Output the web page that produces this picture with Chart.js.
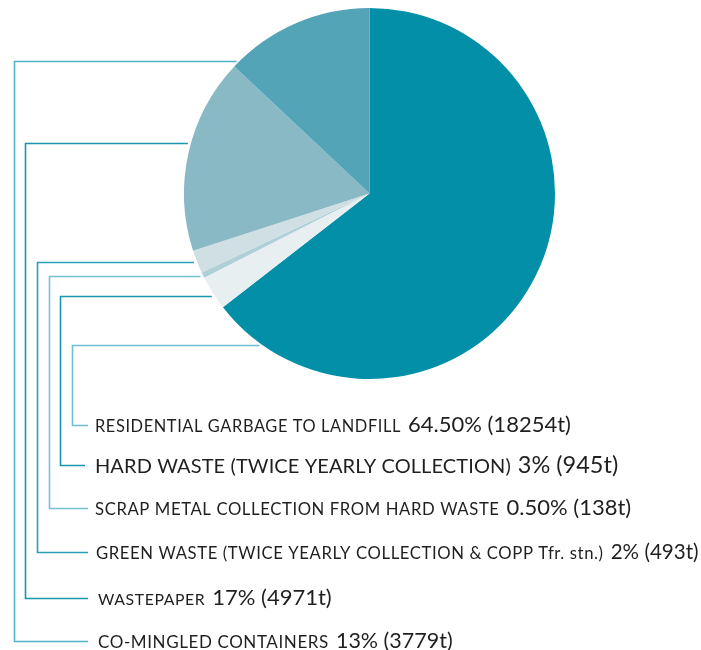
<!DOCTYPE html>
<html lang="en">
  <head>
    <meta charset="UTF-8" />
    <title>Residential waste streams</title>
    <style>
      body { margin: 0; background: #ffffff; }
      #wrap { position: relative; width: 701px; height: 650px; }
    </style>
  </head>
  <body>
    <div id="wrap"><canvas id="myChart"></canvas></div>

    <script src="https://cdn.jsdelivr.net/npm/chart.js"></script>
    <script>
      // values
      const categories = [
        "RESIDENTIAL GARBAGE TO LANDFILL",
        "HARD WASTE (TWICE YEARLY COLLECTION)",
        "SCRAP METAL COLLECTION FROM HARD WASTE",
        "GREEN WASTE (TWICE YEARLY COLLECTION & COPP Tfr. stn.)",
        "WASTEPAPER",
        "CO-MINGLED CONTAINERS",
      ];
      const shares = [64.5, 3, 0.5, 2, 17, 13];
      const shareText = ["64.50%", "3%", "0.50%", "2%", "17%", "13%"];
      const tonnes = [18254, 945, 138, 493, 4971, 3779];

      const sliceColors = ["#028fa7", "#e8eff1", "#afd0d7", "#d0dfe4", "#8ab9c6", "#53a4b7"];

      // leader lines + labels under the pie
      const leaderLabels = {
        id: "leaderLabels",
        afterDraw(chart, args, opts) {
          const ctx = chart.ctx;
          const arcs = chart.getDatasetMeta(0).data;
          ctx.save();
          arcs.forEach((arc, i) => {
            const p = arc.getProps(["x", "y", "startAngle", "endAngle", "outerRadius"], true);
            const a = p.startAngle + (p.endAngle - p.startAngle) * opts.anchor[i];
            const ax = p.x + Math.cos(a) * p.outerRadius - 3;
            const ay = Math.round(p.y + Math.sin(a) * p.outerRadius) + 0.5;
            const cx = opts.columnX[i] + 0.5;
            const ly = opts.rowY[i] + 0.5;

            ctx.strokeStyle = opts.lineColors[i];
            ctx.lineWidth = 1.6;
            ctx.beginPath();
            ctx.moveTo(ax, ay);
            ctx.lineTo(cx, ay);
            ctx.lineTo(cx, ly);
            ctx.lineTo(opts.lineEndX[i], ly);
            ctx.stroke();

            // category in caps, then the figures a bit larger
            const capSize = opts.capSize[i];
            const base = opts.rowY[i] + Math.round(capSize * 0.36) + 1;
            ctx.fillStyle = "#1f1f1f";
            ctx.textBaseline = "alphabetic";
            ctx.textAlign = "left";
            ctx.font = capSize + "px Lato, 'Open Sans', sans-serif";
            ctx.letterSpacing = opts.spacing[i] + "px";
            ctx.fillText(categories[i], opts.textX[i], base);
            const w = ctx.measureText(categories[i]).width;
            ctx.letterSpacing = "0px";
            ctx.font = opts.numSize[i] + "px Lato, 'Open Sans', sans-serif";
            const figs = shareText[i] + " (" + tonnes[i] + "t)";
            ctx.fillText(figs, opts.textX[i] + w + 7, base);
          });
          ctx.restore();
        },
      };

      const ctx = document.getElementById("myChart").getContext("2d");
      const chart = new Chart(ctx, {
        type: "pie",
        data: {
          labels: categories,
          datasets: [
            {
              data: shares,
              backgroundColor: sliceColors,
              borderWidth: 0,
            },
          ],
        },
        options: {
          responsive: true,
          maintainAspectRatio: false,
          animation: false,
          layout: { padding: { left: 184, right: 146, top: 8, bottom: 271 } },
          plugins: {
            legend: { display: false },
            tooltip: { enabled: false },
            leaderLabels: {
              anchor: [0.927, 0.4, 0.3, 0.5, 0.55, 0.05],
              columnX: [72, 60, 49, 37, 25, 14],
              rowY: [425, 465, 508, 552, 598, 641],
              lineEndX: [88, 85, 88, 88, 88, 88],
              textX: [95, 95, 95, 96, 98, 98],
              capSize: [16.4, 20, 16.7, 16.7, 15.8, 17],
              spacing: [0.6, 0.1, 0.6, 0.6, 0.6, 0.6],
              numSize: [22, 23.5, 22, 20.6, 22, 21.5],
              lineColors: ["#6cc0d1", "#1897b0", "#74c3d2", "#2a9fb5", "#1a97ae", "#52b3c6"],
            },
          },
        },
        plugins: [leaderLabels],
      });
    </script>
  </body>
</html>
